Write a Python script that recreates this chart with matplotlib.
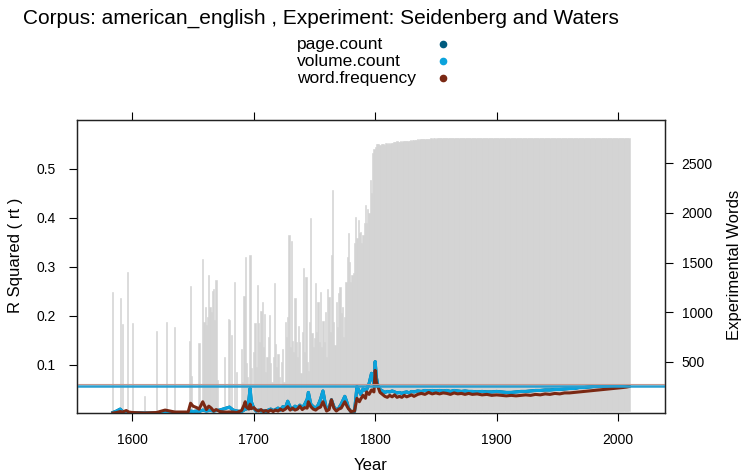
import matplotlib
matplotlib.use('Agg')
import matplotlib.pyplot as plt
import matplotlib.lines as mlines
import numpy as np

plt.rcParams['font.family'] = ['Liberation Sans', 'DejaVu Sans']

# ---- data ----
title = 'Corpus: american_english , Experiment: Seidenberg and Waters'
series_names = ['page.count', 'volume.count', 'word.frequency']
series_colors = ['#005B7F', '#0BA3DC', '#7A2813']

# experimental words per year (grey bars, right axis)
early_years = [1584, 1590, 1592, 1596, 1600, 1610, 1620, 1628, 1635, 1647, 1648, 1649,
               1655, 1658, 1659, 1660, 1661, 1662, 1663, 1664, 1665, 1666, 1667, 1668,
               1669, 1670, 1676, 1679, 1680, 1682, 1684, 1686]
early_words = [1200, 1140, 880, 1400, 890, 150, 810, 900, 850, 710, 1260, 360,
               690, 1540, 900, 1050, 870, 950, 1370, 1055, 1000, 1210, 1230, 920,
               1320, 316, 550, 930, 920, 770, 1300, 400]

# 1690 .. 1799, one value per year
mid_words = [630, 300, 1165, 1556, 484, 350, 200, 1573, 434, 0,
             600, 893, 450, 1270, 887, 700, 1011, 1105, 650, 981,
             400, 544, 750, 971, 484, 300, 550, 1297, 679, 450,
             578, 350, 248, 500, 628, 300, 897, 750, 951, 1774,
             650, 1714, 712, 600, 1139, 702, 550, 860, 700, 389,
             800, 1442, 600, 1357, 500, 406, 900, 1946, 786, 650,
             736, 1297, 800, 1100, 700, 1200, 650, 913, 700, 1000,
             550, 1230, 1150, 800, 1576, 2231, 900, 668, 1100, 850,
             1190, 1250, 988, 1050, 750, 954, 1300, 1559, 1794, 1508,
             1300, 1374, 1391, 1700, 1962, 1750, 1929, 1800, 1811, 1700,
             1780, 1895, 2080, 1900, 2036, 2000, 2332, 2200, 2601, 2640]

# 1800 .. 2009, one value per year
late_words = [2668, 2695, 2690, 2700, 2685, 2692, 2700, 2695, 2688, 2702,
              2698, 2705, 2700, 2708, 2703, 2712, 2718, 2715, 2722, 2716,
              2720, 2724, 2718, 2726, 2722, 2728, 2725, 2730, 2727, 2733,
              2730, 2735, 2738, 2733, 2740, 2742, 2738, 2744, 2741, 2746,
              2744, 2748, 2745, 2750, 2747, 2749, 2752, 2748, 2751, 2753,
              2750, 2754, 2752, 2755, 2753, 2756, 2754, 2757, 2755, 2756,
              2757, 2755, 2758, 2756, 2758, 2757, 2759, 2757, 2758, 2759,
              2758, 2759, 2757, 2759, 2758, 2760, 2758, 2759, 2758, 2760,
              2759, 2758, 2760, 2759, 2758, 2760, 2759, 2758, 2760, 2759,
              2758, 2760, 2759, 2758, 2759, 2760, 2758, 2759, 2760, 2758,
              2759, 2760, 2758, 2759, 2760, 2759, 2758, 2760, 2759, 2758,
              2760, 2759, 2758, 2760, 2759, 2758, 2760, 2759, 2760, 2758,
              2759, 2760, 2758, 2759, 2760, 2759, 2758, 2760, 2759, 2758,
              2760, 2759, 2758, 2760, 2759, 2760, 2758, 2759, 2760, 2759,
              2758, 2760, 2759, 2758, 2760, 2759, 2758, 2760, 2759, 2760,
              2758, 2759, 2760, 2759, 2758, 2760, 2759, 2758, 2760, 2759,
              2760, 2758, 2759, 2760, 2759, 2758, 2760, 2759, 2758, 2760,
              2759, 2758, 2760, 2759, 2760, 2758, 2759, 2760, 2759, 2758,
              2760, 2759, 2758, 2760, 2759, 2758, 2760, 2759, 2760, 2758,
              2759, 2760, 2758, 2759, 2760, 2759, 2758, 2760, 2759, 2758,
              2760, 2759, 2758, 2760, 2759, 2758, 2760, 2759, 2760, 2758]

# R squared lines (left axis)
line_years = [1584, 1587, 1590, 1592, 1595, 1597, 1600, 1610, 1620, 1627, 1635, 1646,
              1648, 1650, 1653, 1655, 1658, 1661, 1663, 1665, 1667, 1669, 1672, 1676,
              1680, 1683, 1686, 1690, 1692, 1693, 1694, 1696, 1697, 1698, 1700, 1702,
              1704, 1706, 1708, 1710, 1712, 1714, 1716, 1718, 1720, 1722, 1724, 1726,
              1728, 1730, 1732, 1734, 1736, 1738, 1740, 1742, 1744, 1745, 1747, 1749,
              1751, 1753, 1755, 1757, 1759, 1760, 1762, 1764, 1766, 1768, 1770, 1772,
              1775, 1777, 1778, 1780, 1783, 1785, 1787, 1788, 1790, 1792, 1793, 1795,
              1797, 1799, 1800, 1801, 1802, 1804, 1806, 1808, 1810, 1812, 1814, 1816,
              1818, 1820, 1822, 1824, 1826, 1828, 1830, 1832, 1835, 1838, 1841, 1844,
              1847, 1850, 1853, 1856, 1859, 1862, 1865, 1868, 1871, 1874, 1877, 1880,
              1884, 1888, 1892, 1896, 1900, 1904, 1908, 1912, 1916, 1920, 1924, 1928,
              1932, 1936, 1940, 1944, 1948, 1952, 1956, 1960, 1964, 1968, 1972, 1976,
              1980, 1984, 1988, 1992, 1996, 2000, 2004, 2007, 2009]
volume_r2 = [0.003, 0.006, 0.010, 0.005, 0.004, 0.003, 0.003, 0.002, 0.002, 0.004, 0.003, 0.003,
             0.006, 0.005, 0.006, 0.005, 0.008, 0.006, 0.007, 0.007, 0.006, 0.007, 0.008, 0.011,
             0.014, 0.008, 0.006, 0.005, 0.008, 0.012, 0.010, 0.029, 0.052, 0.025, 0.012, 0.006,
             0.008, 0.006, 0.007, 0.005, 0.008, 0.010, 0.007, 0.009, 0.012, 0.008, 0.015, 0.012,
             0.026, 0.014, 0.010, 0.016, 0.012, 0.018, 0.012, 0.020, 0.030, 0.044, 0.020, 0.015,
             0.012, 0.018, 0.030, 0.047, 0.020, 0.010, 0.012, 0.029, 0.015, 0.008, 0.012, 0.020,
             0.036, 0.022, 0.012, 0.005, 0.005, 0.056, 0.046, 0.040, 0.051, 0.048, 0.050, 0.062,
             0.083, 0.060, 0.107, 0.075, 0.061, 0.050, 0.047, 0.044, 0.046, 0.045, 0.047, 0.045,
             0.043, 0.044, 0.042, 0.044, 0.045, 0.043, 0.046, 0.045, 0.047, 0.046, 0.048, 0.047,
             0.048, 0.047, 0.048, 0.047, 0.048, 0.046, 0.048, 0.047, 0.046, 0.047, 0.046, 0.046,
             0.045, 0.046, 0.045, 0.045, 0.046, 0.045, 0.044, 0.044, 0.045, 0.046, 0.046, 0.047,
             0.048, 0.048, 0.049, 0.049, 0.050, 0.050, 0.051, 0.052, 0.052, 0.054, 0.054, 0.055,
             0.056, 0.056, 0.057, 0.057, 0.057, 0.058, 0.058, 0.058, 0.058]
wordfreq_r2 = [0.002, 0.003, 0.005, 0.004, 0.007, 0.004, 0.003, 0.002, 0.003, 0.008, 0.004, 0.004,
               0.022, 0.016, 0.013, 0.010, 0.025, 0.009, 0.016, 0.012, 0.006, 0.009, 0.005, 0.004,
               0.004, 0.004, 0.003, 0.007, 0.018, 0.025, 0.014, 0.010, 0.020, 0.011, 0.013, 0.008,
               0.006, 0.009, 0.005, 0.007, 0.005, 0.008, 0.005, 0.008, 0.006, 0.010, 0.007, 0.010,
               0.015, 0.008, 0.012, 0.008, 0.010, 0.016, 0.009, 0.013, 0.012, 0.025, 0.015, 0.010,
               0.008, 0.012, 0.014, 0.025, 0.012, 0.006, 0.009, 0.029, 0.012, 0.006, 0.010, 0.012,
               0.025, 0.015, 0.011, 0.005, 0.006, 0.032, 0.025, 0.030, 0.038, 0.032, 0.045, 0.040,
               0.049, 0.045, 0.089, 0.065, 0.058, 0.044, 0.040, 0.036, 0.034, 0.038, 0.035, 0.039,
               0.034, 0.036, 0.034, 0.038, 0.035, 0.037, 0.039, 0.036, 0.040, 0.042, 0.040, 0.044,
               0.041, 0.043, 0.041, 0.043, 0.042, 0.040, 0.043, 0.041, 0.042, 0.040, 0.042, 0.040,
               0.041, 0.039, 0.040, 0.038, 0.039, 0.038, 0.037, 0.038, 0.037, 0.038, 0.039, 0.038,
               0.040, 0.039, 0.041, 0.040, 0.042, 0.041, 0.043, 0.043, 0.044, 0.045, 0.046, 0.047,
               0.048, 0.049, 0.050, 0.051, 0.052, 0.053, 0.054, 0.055, 0.056]
# page.count sits right under volume.count in the picture
page_r2 = volume_r2

# reference lines
volume_ref = 0.0578
wordfreq_ref = 0.0605

words_years = early_years + list(range(1690, 1800)) + list(range(1800, 2010))
words = early_words + mid_words + late_words

# ---- figure ----
W, H = 744, 474
fig = plt.figure(figsize=(W / 100, H / 100), dpi=100)
L, R, T, B = 76.7, 665.0, 120.0, 413.3
ax = fig.add_axes([L / W, 1 - B / H, (R - L) / W, (B - T) / H])
ax2 = ax.twinx()
ax.set_zorder(ax2.get_zorder() + 1)
ax.patch.set_visible(False)

ax2.bar(words_years, words, width=1.0, color='#D3D3D3', edgecolor='#D3D3D3',
        linewidth=0.4)

ax.plot(line_years, page_r2, color=series_colors[0], lw=2.2, solid_joinstyle='round')
ax.plot(line_years, volume_r2, color=series_colors[1], lw=2.2, solid_joinstyle='round')
ax.plot(line_years, wordfreq_r2, color=series_colors[2], lw=2.2, solid_joinstyle='round')
ax.axhline(volume_ref, color='#2A9FD0', lw=1.8)
ax.axhline(wordfreq_ref, color='#C49A92', lw=0.8)

ax.set_xlim(1554.2, 2038.7)
ax.set_ylim(0.0014, 0.6)
ax2.set_ylim(-20, 2937)

ax.set_xticks([1600, 1700, 1800, 1900, 2000])
ax.set_yticks([0.1, 0.2, 0.3, 0.4, 0.5])
ax2.set_yticks([500, 1000, 1500, 2000, 2500])

for a in (ax, ax2):
    for s in a.spines.values():
        s.set_linewidth(0.9)
        s.set_color('#222222')
ax.tick_params(axis='x', which='both', top=True, bottom=True, labeltop=False,
               direction='out', length=6, width=0.8, pad=8, labelsize=10)
ax.tick_params(axis='y', left=True, right=False, direction='out', length=6,
               width=0.8, pad=9, labelsize=10)
ax2.tick_params(axis='y', right=True, left=False, direction='out', length=6,
                width=0.8, pad=6, labelsize=10)

fig.text(23 / W, 1 - 18 / H, title, fontsize=15, ha='left', va='center')
fig.text(370.8 / W, 1 - 465 / H, 'Year', fontsize=12, ha='center', va='center')
fig.text(16 / W, 1 - 255 / H, 'R Squared ( rt )', fontsize=12, rotation=90,
         ha='center', va='center')
fig.text(735 / W, 1 - 265 / H, 'Experimental Words', fontsize=12, rotation=90,
         ha='center', va='center')

# legend: names on the left, dots on the right
for i, (name, c) in enumerate(zip(series_names, series_colors)):
    yy = 1 - (44 + 17 * i) / H
    fig.text(297 / W, yy, name, fontsize=12.5, ha='left', va='center')
    fig.add_artist(mlines.Line2D([443 / W], [yy], marker='o', ms=4.5, color=c,
                                 linestyle='none', transform=fig.transFigure))

fig.savefig('out.png', dpi=100)
